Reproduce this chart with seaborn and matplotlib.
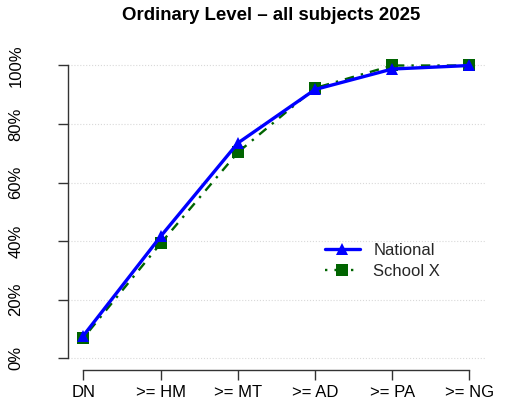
import matplotlib
matplotlib.use('Agg')
import matplotlib.pyplot as plt
import pandas as pd
import seaborn as sns
from matplotlib.ticker import PercentFormatter

# cumulative share of grades
grades = ['DN', '>= HM', '>= MT', '>= AD', '>= PA', '>= NG']
national = [0.077, 0.416, 0.735, 0.918, 0.988, 1.0]
school_x = [0.069, 0.392, 0.703, 0.923, 1.0, 1.0]
series_names = ['National', 'School X']
y_ticks = [0, 0.2, 0.4, 0.6, 0.8, 1.0]

df = pd.DataFrame({
    'grade': grades * 2,
    'pct': national + school_x,
    'series': [series_names[0]] * len(grades) + [series_names[1]] * len(grades),
})

sns.set_style('white')
plt.rcParams['font.family'] = ['Liberation Sans', 'DejaVu Sans']

fig = plt.figure(figsize=(5.11, 4.17), dpi=100)
ax = fig.add_axes([0.133, 0.113, 0.816, 0.758])

sns.lineplot(data=df, x='grade', y='pct', hue='series', style='series',
             palette={'National': 'blue', 'School X': 'darkgreen'},
             markers={'National': '^', 'School X': 's'},
             dashes={'National': '', 'School X': (1, 3, 4, 3)},
             markersize=9, markeredgewidth=0, sort=False, ax=ax)

# thicker national line, thinner school line
for ln in ax.get_lines():
    if ln.get_color() == 'blue':
        ln.set_linewidth(2.4)
        ln.set_zorder(4)
    else:
        ln.set_linewidth(1.7)
        ln.set_markersize(8)

ax.set_xlim(-0.2, 5.2)
ax.set_ylim(-0.04, 1.04)
ax.set_yticks(y_ticks)
ax.yaxis.set_major_formatter(PercentFormatter(1.0, decimals=0))
ax.grid(axis='y', linestyle=':', color='#d9d9d9', linewidth=0.8)
ax.grid(axis='x', visible=False)

ax.set_xlabel('')
ax.set_ylabel('')
fig.text(0.53, 0.962, 'Ordinary Level \u2013 all subjects 2025', fontsize=13.4,
         fontweight='bold', ha='center', va='center', color='black')

for side in ['top', 'right']:
    ax.spines[side].set_visible(False)
ax.spines['left'].set_bounds(0, 1)
ax.spines['bottom'].set_bounds(0, 5)
for side in ['left', 'bottom']:
    ax.spines[side].set_color('#333333')
    ax.spines[side].set_linewidth(1.0)

ax.tick_params(axis='both', length=7, width=1, color='#333333',
               labelsize=12, labelcolor='black', direction='out',
               bottom=True, left=True)
ax.tick_params(axis='x', pad=4)
ax.tick_params(axis='y', pad=25)
for lab in ax.get_yticklabels():
    lab.set_rotation(90)
    lab.set_va('center')

leg = ax.legend(loc='upper left', bbox_to_anchor=(0.58, 0.448), frameon=False,
                fontsize=12, handlelength=2.1, labelspacing=0.35,
                handletextpad=0.8)

fig.savefig('out.png', dpi=100)
